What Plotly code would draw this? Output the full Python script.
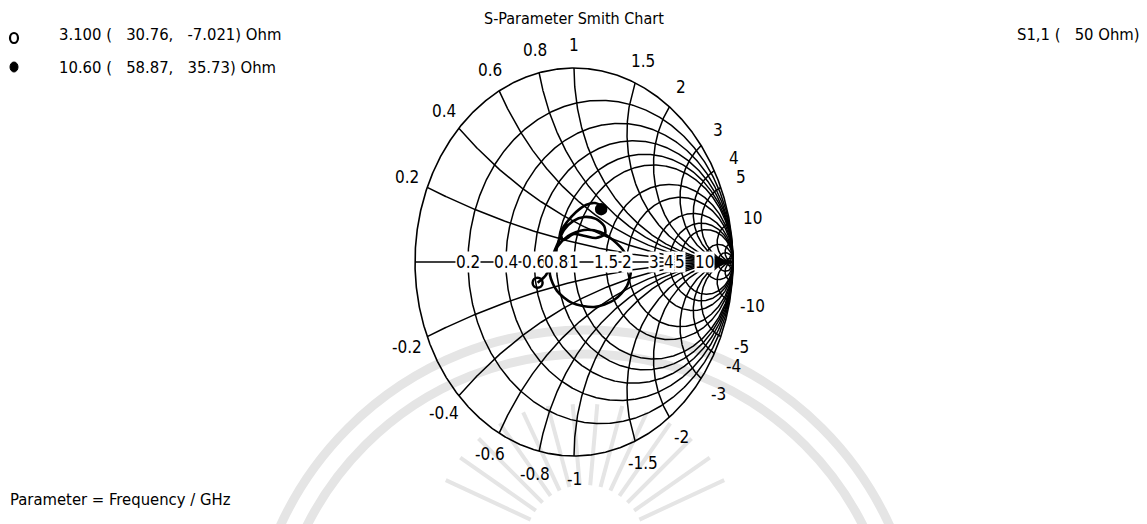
import numpy as np
import plotly.graph_objects as go

# ---- data -------------------------------------------------------------
Z0 = 50.0  # reference impedance, ohm

# normalised resistance circles and reactance arcs of the grid
R_GRID = [0.2, 0.4, 0.6, 0.8, 1, 1.5, 2, 3, 4, 5, 10, 20, 50]
X_GRID = [0.2, 0.4, 0.6, 0.8, 1, 1.5, 2, 3, 4, 5, 10, 20, 50]

# labelled grid values
R_TICKS = [0.2, 0.4, 0.6, 0.8, 1, 1.5, 2, 3, 4, 5, 10]
R_TICK_TEXT = ["0.2", "0.4", "0.6", "0.8", "1", "1.5", "2", "3", "4", "5", "10"]
X_TICKS = [0.2, 0.4, 0.6, 0.8, 1, 1.5, 2, 3, 4, 5, 10]
X_TICK_TEXT = ["0.2", "0.4", "0.6", "0.8", "1", "1.5", "2", "3", "4", "5", "10"]

# S1,1 trace from 3.1 GHz to 10.6 GHz (reflection coefficient, real / imaginary part)
S11_RE = [-0.229, -0.176, -0.138, -0.101, -0.038, 0.063, 0.164, 0.245, 0.321,
          0.358, 0.333, 0.252, 0.126, -0.013, -0.107, -0.151, -0.138, -0.101,
          -0.063, -0.006, 0.063, 0.138, 0.189, 0.195, 0.138, 0.069, 0.000,
          -0.069, -0.082, -0.044, 0.013, 0.075, 0.132, 0.170, 0.171]
S11_IM = [-0.107, -0.067, 0.010, 0.082, 0.134, 0.165, 0.155, 0.113, 0.046,
          -0.036, -0.124, -0.196, -0.232, -0.211, -0.149, -0.067, 0.021, 0.098,
          0.165, 0.211, 0.232, 0.222, 0.186, 0.144, 0.124, 0.134, 0.144,
          0.113, 0.155, 0.206, 0.258, 0.294, 0.304, 0.289, 0.272]

# marker readouts: frequency / GHz, R / ohm, X / ohm
MARK_FREQ = [3.100, 10.60]
MARK_R = [30.76, 58.87]
MARK_X = [-7.021, 35.73]
MARK_SYMBOL = ["circle-open", "circle"]

# ---- geometry of the chart on the page ----------------------------------
W, H = 1147, 524
CX, CY = 574.0, 262.0     # chart centre, px
SX, SY = 159.0, 194.0     # px per unit of reflection coefficient
FONT = "DejaVu Sans Condensed, DejaVu Sans, sans-serif"
INK = "#000000"
SHADE = "#e5e5e5"


def gamma(z):
    return (z - 1) / (z + 1)


fig = go.Figure()

# outer rim
rim = gamma(1j * np.tan(np.linspace(-np.pi / 2 + 1e-4, np.pi / 2 - 1e-4, 1200)))
fig.add_trace(go.Scatter(x=np.append(rim.real, rim.real[0]), y=np.append(rim.imag, rim.imag[0]),
                         mode="lines", line=dict(color=INK, width=1.6), hoverinfo="skip"))

# resistance circles
t = np.tan(np.linspace(-np.pi / 2 + 1e-4, np.pi / 2 - 1e-4, 900))
for r in R_GRID:
    g = gamma(r + 1j * t)
    fig.add_trace(go.Scatter(x=g.real, y=g.imag, mode="lines",
                             line=dict(color=INK, width=1.5), hoverinfo="skip"))

# reactance arcs
rr = np.concatenate([[0], np.logspace(-3, 4, 700)])
for xv in X_GRID:
    for s in (1, -1):
        g = gamma(rr + 1j * s * xv)
        fig.add_trace(go.Scatter(x=g.real, y=g.imag, mode="lines",
                                 line=dict(color=INK, width=1.5), hoverinfo="skip"))

# real axis
fig.add_trace(go.Scatter(x=[-1, 1], y=[0, 0], mode="lines",
                         line=dict(color=INK, width=1.6), hoverinfo="skip"))

# S1,1 curve
fig.add_trace(go.Scatter(x=S11_RE, y=S11_IM, mode="lines",
                         line=dict(color=INK, width=2.6, shape="spline", smoothing=0.8),
                         hoverinfo="skip"))

# markers from the stated impedances
for f, R, X, sym in zip(MARK_FREQ, MARK_R, MARK_X, MARK_SYMBOL):
    g = gamma(complex(R, X) / Z0)
    fig.add_trace(go.Scatter(x=[g.real], y=[g.imag], mode="markers",
                             marker=dict(symbol=sym, size=10, color=INK,
                                         line=dict(color=INK, width=2.5)),
                             hoverinfo="skip"))

annotations = []

# labels on the real axis
for r, txt in zip(R_TICKS, R_TICK_TEXT):
    annotations.append(dict(x=(r - 1) / (r + 1), y=0, xref="x", yref="y", text=txt,
                            showarrow=False, bgcolor="white", borderpad=0,
                            font=dict(family=FONT, size=17, color=INK)))

# labels round the rim
OFF = 23.0
for xv, txt in zip(X_TICKS, X_TICK_TEXT):
    for s, prefix in ((1, ""), (-1, "-")):
        g = gamma(1j * s * xv)
        dx, dy = g.real * SX, g.imag * SY
        n = np.hypot(dx, dy)
        annotations.append(dict(x=g.real + OFF * dx / n / SX, y=g.imag + OFF * dy / n / SY,
                                xref="x", yref="y", text=prefix + txt, showarrow=False,
                                font=dict(family=FONT, size=17, color=INK)))

NB = "\u00a0"


def page_text(x, y, txt, anchor="left", size=16.5):
    return dict(x=x / W, y=1 - y / H, xref="paper", yref="paper", text=txt,
                showarrow=False, xanchor=anchor, yanchor="middle",
                font=dict(family=FONT, size=size, color=INK))


annotations.append(page_text(CX, 18, "S-Parameter Smith Chart", "center", 16))
annotations.append(page_text(1142, 34, "S1,1" + NB + "(" + NB * 3 + "50" + NB + "Ohm)", "right"))
annotations.append(page_text(8, 499, "Parameter = Frequency / GHz"))
for i, (f, R, X) in enumerate(zip(MARK_FREQ, MARK_R, MARK_X)):
    ftxt = f"{f:.3f}" if f < 10 else f"{f:.2f}"
    line = f"{ftxt}{NB}({NB*3}{R:.2f},{NB*3}{X:.4g}){NB}Ohm"
    annotations.append(page_text(57, 34 + 33 * i, line))

shapes = []
# legend symbols
shapes.append(dict(type="circle", xref="paper", yref="paper",
                   x0=10 / W, x1=18 / W, y0=1 - 43 / H, y1=1 - 33 / H,
                   line=dict(color=INK, width=2.2)))
shapes.append(dict(type="circle", xref="paper", yref="paper",
                   x0=10 / W, x1=18 / W, y0=1 - 72 / H, y1=1 - 62 / H,
                   fillcolor=INK, line=dict(color=INK, width=1)))

# faint emblem behind the lower half of the page: two bands and a fan of rays
EMB_X, EMB_Y = 585.0, 665.0
for rad in (335.0, 311.0):
    shapes.append(dict(type="circle", xref="paper", yref="paper", layer="below",
                       x0=(EMB_X - rad) / W, x1=(EMB_X + rad) / W,
                       y0=1 - (EMB_Y + rad) / H, y1=1 - (EMB_Y - rad) / H,
                       line=dict(color=SHADE, width=9)))
RAY_X, RAY_Y = 585.0, 545.0
for ang in np.arange(25, 160, 10):
    a = np.radians(ang)
    r0, r1 = 60.0, 140.0 + 15.0 * abs(np.cos(a))
    shapes.append(dict(type="line", xref="paper", yref="paper", layer="below",
                       x0=(RAY_X + r0 * np.cos(a)) / W, y0=1 - (RAY_Y - r0 * np.sin(a)) / H,
                       x1=(RAY_X + r1 * np.cos(a)) / W, y1=1 - (RAY_Y - r1 * np.sin(a)) / H,
                       line=dict(color=SHADE, width=4)))

fig.update_layout(
    width=W, height=H, margin=dict(l=0, r=0, t=0, b=0),
    paper_bgcolor="white", plot_bgcolor="rgba(0,0,0,0)", showlegend=False,
    xaxis=dict(range=[-CX / SX, (W - CX) / SX], visible=False, fixedrange=True),
    yaxis=dict(range=[-(H - CY) / SY, CY / SY], visible=False, fixedrange=True),
    annotations=annotations, shapes=shapes,
)

fig.write_html("out.html")
